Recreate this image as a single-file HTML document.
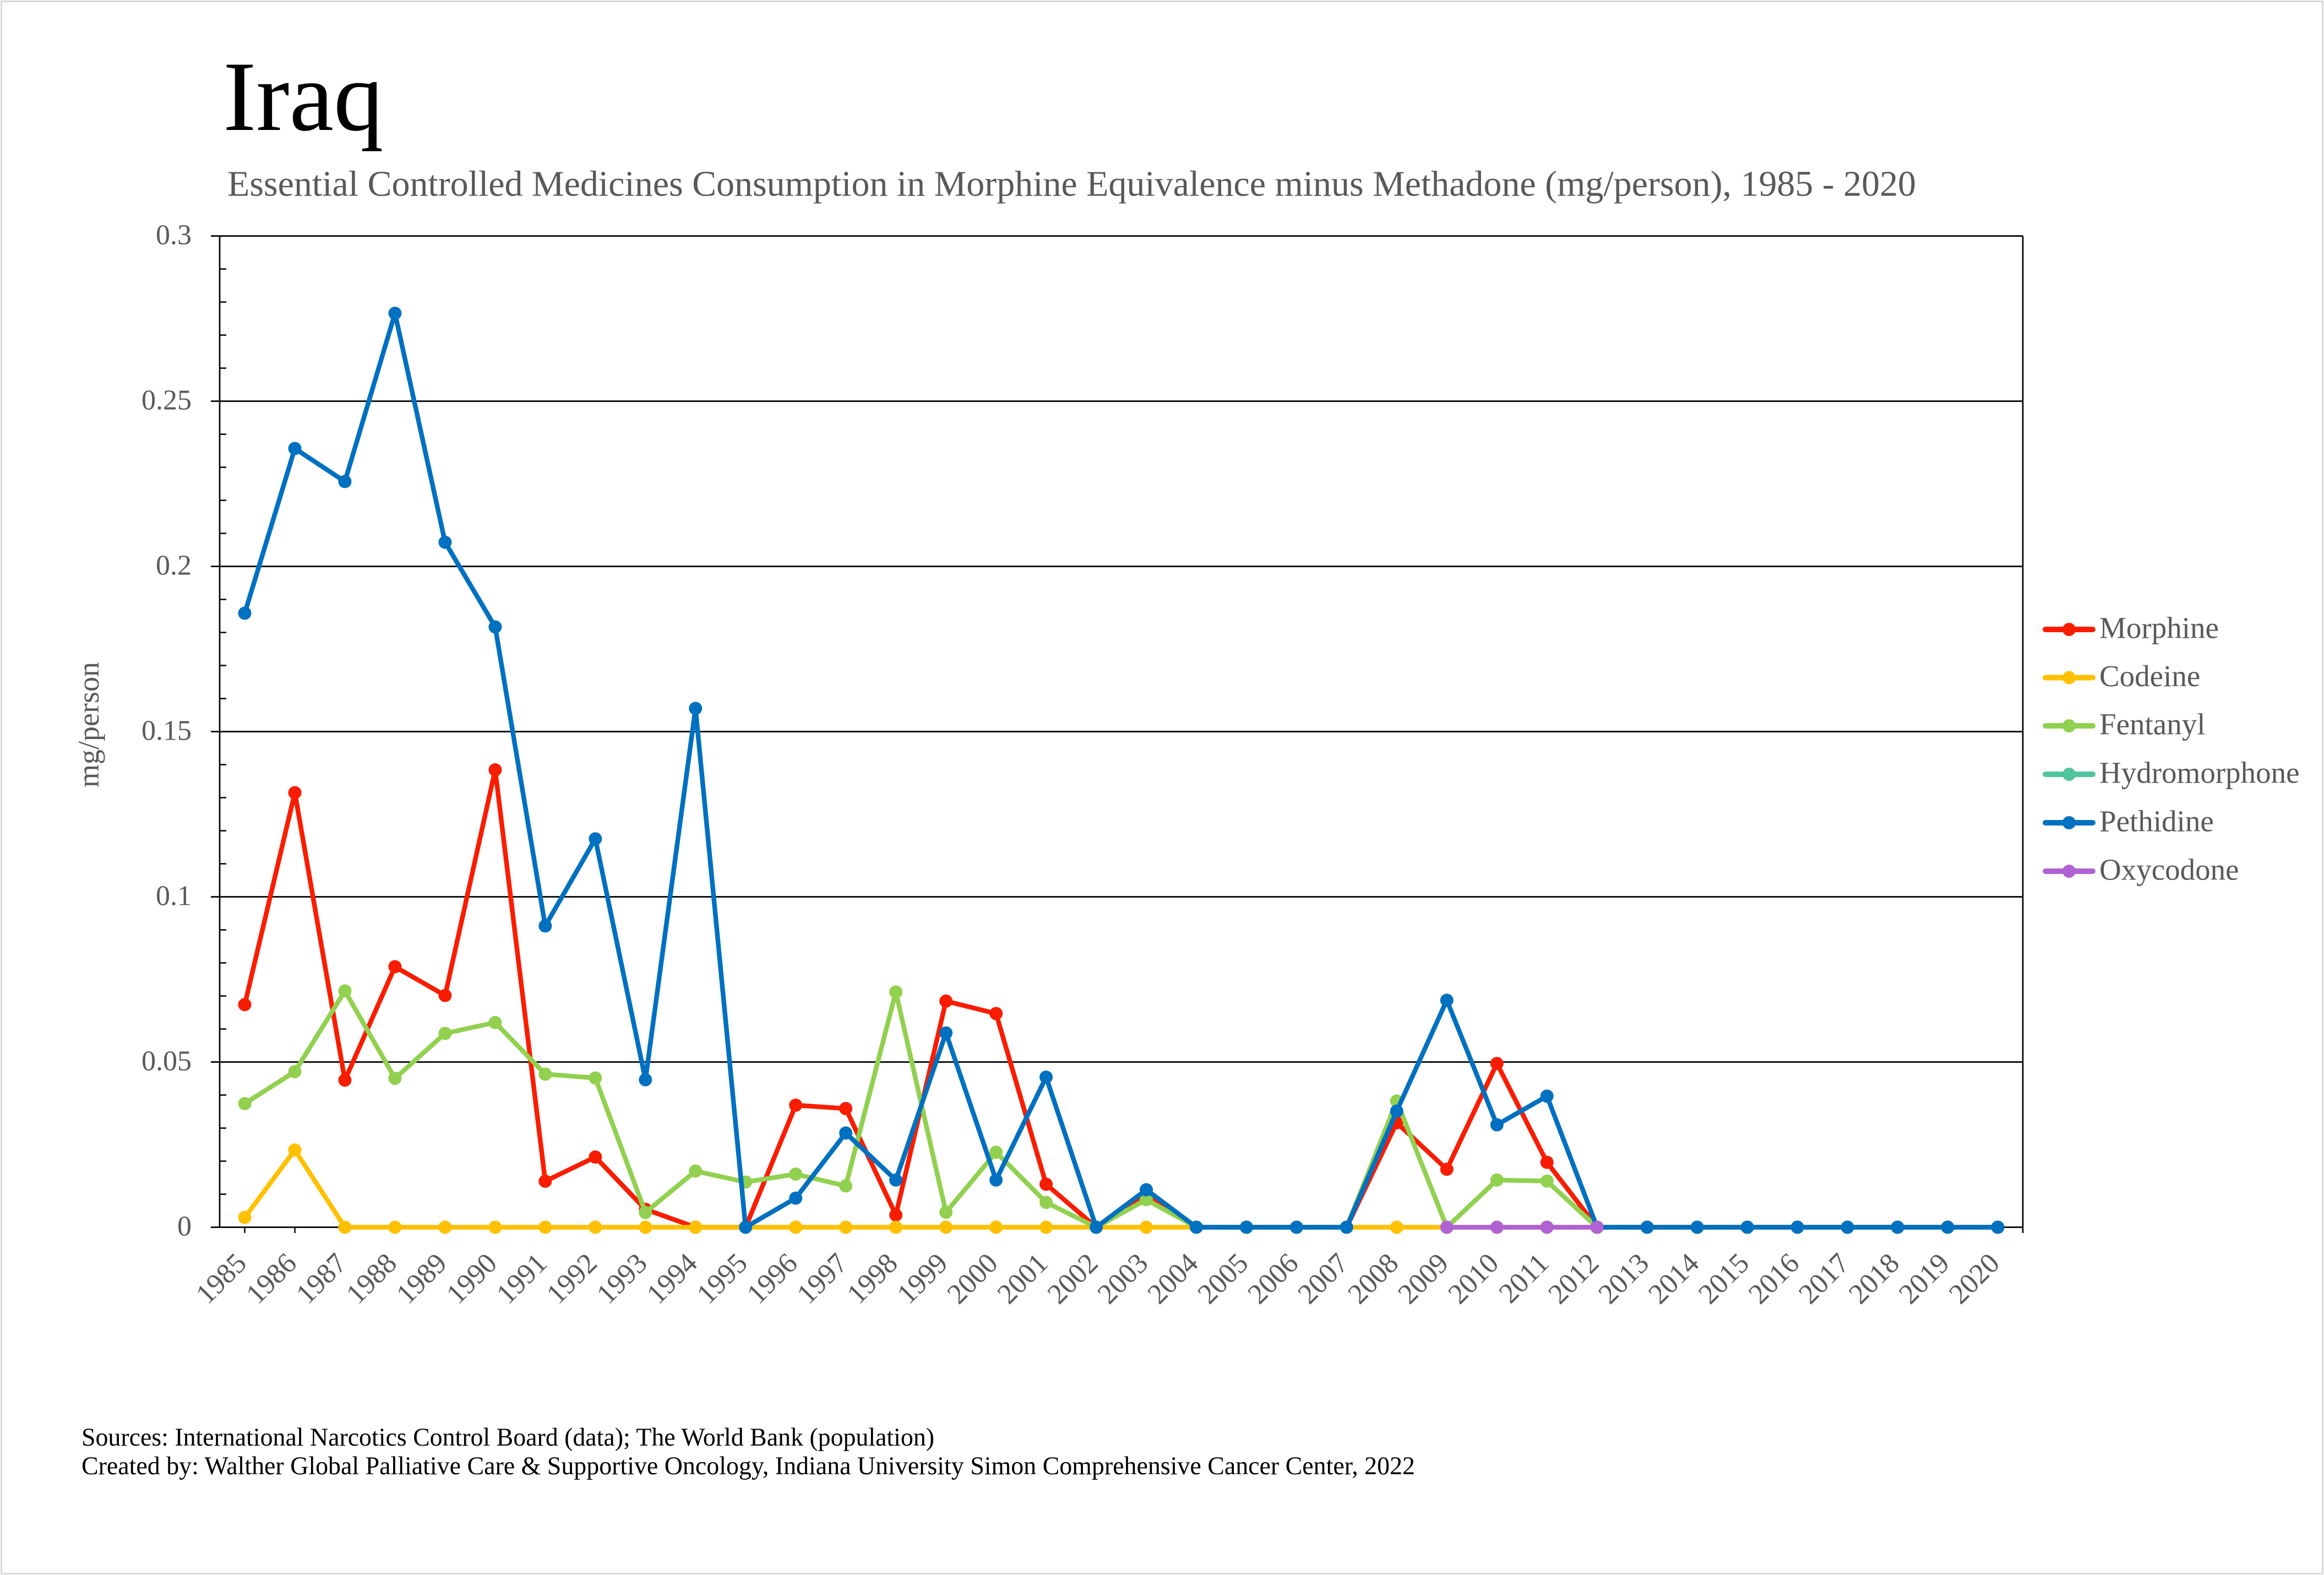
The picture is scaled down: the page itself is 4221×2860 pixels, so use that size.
<!DOCTYPE html>
<html>
<head>
<meta charset="utf-8">
<style>
html,body{margin:0;padding:0;background:#fff;}
svg{display:block;}
text{font-family:"Liberation Serif","Times New Roman",serif;}
</style>
</head>
<body>
<svg width="4221" height="2860" viewBox="0 0 4221 2860" xmlns="http://www.w3.org/2000/svg">
<defs>
<marker id="mR" markerUnits="userSpaceOnUse" markerWidth="26" markerHeight="26" refX="13" refY="13" viewBox="0 0 26 26"><circle cx="13" cy="13" r="12" fill="#F91D00"/></marker>
<marker id="mY" markerUnits="userSpaceOnUse" markerWidth="26" markerHeight="26" refX="13" refY="13" viewBox="0 0 26 26"><circle cx="13" cy="13" r="12" fill="#FFC000"/></marker>
<marker id="mG" markerUnits="userSpaceOnUse" markerWidth="26" markerHeight="26" refX="13" refY="13" viewBox="0 0 26 26"><circle cx="13" cy="13" r="12" fill="#92D050"/></marker>
<marker id="mB" markerUnits="userSpaceOnUse" markerWidth="26" markerHeight="26" refX="13" refY="13" viewBox="0 0 26 26"><circle cx="13" cy="13" r="12" fill="#0070C0"/></marker>
<marker id="mP" markerUnits="userSpaceOnUse" markerWidth="26" markerHeight="26" refX="13" refY="13" viewBox="0 0 26 26"><circle cx="13" cy="13" r="12" fill="#B062D3"/></marker>
</defs>

<rect x="0" y="0" width="4221" height="2860" fill="#fff"/>
<rect x="2.5" y="2.5" width="4216" height="2855" fill="none" stroke="#d9d9d9" stroke-width="3"/>

<!-- Title -->
<text x="405" y="236" font-size="181" fill="#000">Iraq</text>
<text x="413" y="355.5" font-size="66" fill="#595959" textLength="3067" lengthAdjust="spacingAndGlyphs">Essential Controlled Medicines Consumption in Morphine Equivalence minus Methadone (mg/person), 1985 - 2020</text>

<!-- Gridlines -->
<g stroke="#000" stroke-width="2.7">
<line x1="383" y1="428.5" x2="3674" y2="428.5"/>
<line x1="383" y1="728.5" x2="3674" y2="728.5"/>
<line x1="383" y1="1028.5" x2="3674" y2="1028.5"/>
<line x1="383" y1="1328.5" x2="3674" y2="1328.5"/>
<line x1="383" y1="1628.5" x2="3674" y2="1628.5"/>
<line x1="383" y1="1928.5" x2="3674" y2="1928.5"/>
<line x1="383" y1="2228.5" x2="3674" y2="2228.5"/>
<line x1="399" y1="428.5" x2="399" y2="2228.5"/>
<line x1="3674" y1="428.5" x2="3674" y2="2239"/>
</g>
<!-- minor ticks -->
<g stroke="#000" stroke-width="2.5">
<line x1="399" y1="488.5" x2="411" y2="488.5"/>
<line x1="399" y1="548.5" x2="411" y2="548.5"/>
<line x1="399" y1="608.5" x2="411" y2="608.5"/>
<line x1="399" y1="668.5" x2="411" y2="668.5"/>
<line x1="399" y1="788.5" x2="411" y2="788.5"/>
<line x1="399" y1="848.5" x2="411" y2="848.5"/>
<line x1="399" y1="908.5" x2="411" y2="908.5"/>
<line x1="399" y1="968.5" x2="411" y2="968.5"/>
<line x1="399" y1="1088.5" x2="411" y2="1088.5"/>
<line x1="399" y1="1148.5" x2="411" y2="1148.5"/>
<line x1="399" y1="1208.5" x2="411" y2="1208.5"/>
<line x1="399" y1="1268.5" x2="411" y2="1268.5"/>
<line x1="399" y1="1388.5" x2="411" y2="1388.5"/>
<line x1="399" y1="1448.5" x2="411" y2="1448.5"/>
<line x1="399" y1="1508.5" x2="411" y2="1508.5"/>
<line x1="399" y1="1568.5" x2="411" y2="1568.5"/>
<line x1="399" y1="1688.5" x2="411" y2="1688.5"/>
<line x1="399" y1="1748.5" x2="411" y2="1748.5"/>
<line x1="399" y1="1808.5" x2="411" y2="1808.5"/>
<line x1="399" y1="1868.5" x2="411" y2="1868.5"/>
<line x1="399" y1="1988.5" x2="411" y2="1988.5"/>
<line x1="399" y1="2048.5" x2="411" y2="2048.5"/>
<line x1="399" y1="2108.5" x2="411" y2="2108.5"/>
<line x1="399" y1="2168.5" x2="411" y2="2168.5"/>
</g>
<!-- x ticks -->
<g stroke="#000" stroke-width="2.5">
<line x1="444.5" y1="2228.5" x2="444.5" y2="2239"/>
<line x1="535.5" y1="2228.5" x2="535.5" y2="2239"/>
<line x1="626.4" y1="2228.5" x2="626.4" y2="2239"/>
<line x1="717.4" y1="2228.5" x2="717.4" y2="2239"/>
<line x1="808.4" y1="2228.5" x2="808.4" y2="2239"/>
<line x1="899.4" y1="2228.5" x2="899.4" y2="2239"/>
<line x1="990.3" y1="2228.5" x2="990.3" y2="2239"/>
<line x1="1081.3" y1="2228.5" x2="1081.3" y2="2239"/>
<line x1="1172.3" y1="2228.5" x2="1172.3" y2="2239"/>
<line x1="1263.2" y1="2228.5" x2="1263.2" y2="2239"/>
</g>

<!-- Y tick labels -->
<g font-size="52" fill="#595959" text-anchor="end">
<text x="348" y="443.5">0.3</text>
<text x="348" y="743.5">0.25</text>
<text x="348" y="1043.5">0.2</text>
<text x="348" y="1343.5">0.15</text>
<text x="348" y="1643.5">0.1</text>
<text x="348" y="1943.5">0.05</text>
<text x="348" y="2243.5">0</text>
</g>

<!-- Y axis title -->
<text transform="translate(179,1316) rotate(-90)" font-size="54" fill="#595959" text-anchor="middle">mg/person</text>

<!-- X labels -->
<g font-size="52" fill="#595959" text-anchor="end">
<text transform="translate(450.5,2297) rotate(-45)">1985</text>
<text transform="translate(541.5,2297) rotate(-45)">1986</text>
<text transform="translate(632.4,2297) rotate(-45)">1987</text>
<text transform="translate(723.4,2297) rotate(-45)">1988</text>
<text transform="translate(814.4,2297) rotate(-45)">1989</text>
<text transform="translate(905.4,2297) rotate(-45)">1990</text>
<text transform="translate(996.3,2297) rotate(-45)">1991</text>
<text transform="translate(1087.3,2297) rotate(-45)">1992</text>
<text transform="translate(1178.3,2297) rotate(-45)">1993</text>
<text transform="translate(1269.2,2297) rotate(-45)">1994</text>
<text transform="translate(1360.2,2297) rotate(-45)">1995</text>
<text transform="translate(1451.2,2297) rotate(-45)">1996</text>
<text transform="translate(1542.1,2297) rotate(-45)">1997</text>
<text transform="translate(1633.1,2297) rotate(-45)">1998</text>
<text transform="translate(1724.1,2297) rotate(-45)">1999</text>
<text transform="translate(1815.1,2297) rotate(-45)">2000</text>
<text transform="translate(1906,2297) rotate(-45)">2001</text>
<text transform="translate(1997,2297) rotate(-45)">2002</text>
<text transform="translate(2088,2297) rotate(-45)">2003</text>
<text transform="translate(2178.9,2297) rotate(-45)">2004</text>
<text transform="translate(2269.9,2297) rotate(-45)">2005</text>
<text transform="translate(2360.9,2297) rotate(-45)">2006</text>
<text transform="translate(2451.8,2297) rotate(-45)">2007</text>
<text transform="translate(2542.8,2297) rotate(-45)">2008</text>
<text transform="translate(2633.8,2297) rotate(-45)">2009</text>
<text transform="translate(2724.8,2297) rotate(-45)">2010</text>
<text transform="translate(2815.7,2297) rotate(-45)">2011</text>
<text transform="translate(2906.7,2297) rotate(-45)">2012</text>
<text transform="translate(2997.7,2297) rotate(-45)">2013</text>
<text transform="translate(3088.6,2297) rotate(-45)">2014</text>
<text transform="translate(3179.6,2297) rotate(-45)">2015</text>
<text transform="translate(3270.6,2297) rotate(-45)">2016</text>
<text transform="translate(3361.5,2297) rotate(-45)">2017</text>
<text transform="translate(3452.5,2297) rotate(-45)">2018</text>
<text transform="translate(3543.5,2297) rotate(-45)">2019</text>
<text transform="translate(3634.5,2297) rotate(-45)">2020</text>
</g>

<!-- Series -->
<g fill="none" stroke-width="8.5" stroke-linejoin="round" stroke-linecap="round">
<!-- Morphine -->
<polyline stroke="#F91D00" marker-start="url(#mR)" marker-mid="url(#mR)" marker-end="url(#mR)" points="444.5,1824.2 535.5,1439.4 626.4,1961.4 717.4,1755.4 808.4,1807.7 899.4,1398 990.3,2145 1081.3,2101 1172.3,2196 1263.2,2228.5 1354.2,2228.5 1445.2,2006.9 1536.1,2013 1627.1,2206.3 1718.1,1817.9 1809.1,1840.5 1900,2150.4 1991,2228.5 2082,2167.3 2172.9,2228.5 2263.9,2228.5 2354.9,2228.5 2445.8,2228.5 2536.8,2038.7 2627.8,2123.3 2718.8,1931.2 2809.7,2110.6 2900.7,2228.5 2991.7,2228.5 3082.6,2228.5 3173.6,2228.5 3264.6,2228.5 3355.5,2228.5 3446.5,2228.5 3537.5,2228.5 3628.5,2228.5"/>
<!-- Codeine -->
<polyline stroke="#FFC000" marker-start="url(#mY)" marker-mid="url(#mY)" marker-end="url(#mY)" points="444.5,2210.7 535.5,2088.3 626.4,2228.5 717.4,2228.5 808.4,2228.5 899.4,2228.5 990.3,2228.5 1081.3,2228.5 1172.3,2228.5 1263.2,2228.5 1354.2,2228.5 1445.2,2228.5 1536.1,2228.5 1627.1,2228.5 1718.1,2228.5 1809.1,2228.5 1900,2228.5 1991,2228.5 2082,2228.5 2172.9,2228.5 2263.9,2228.5 2354.9,2228.5 2445.8,2228.5 2536.8,2228.5 2627.8,2228.5 2718.8,2228.5 2809.7,2228.5 2900.7,2228.5 2991.7,2228.5 3082.6,2228.5 3173.6,2228.5 3264.6,2228.5 3355.5,2228.5 3446.5,2228.5 3537.5,2228.5 3628.5,2228.5"/>
<!-- Fentanyl -->
<polyline stroke="#92D050" marker-start="url(#mG)" marker-mid="url(#mG)" marker-end="url(#mG)" points="444.5,2004 535.5,1946 626.4,1799.4 717.4,1958.2 808.4,1876.5 899.4,1856.8 990.3,1950.5 1081.3,1957.5 1172.3,2201.8 1263.2,2126.5 1354.2,2146.5 1445.2,2132 1536.1,2153.5 1627.1,1801.4 1718.1,2201.3 1809.1,2092.3 1900,2183.4 1991,2228.5 2082,2178.4 2172.9,2228.5 2263.9,2228.5 2354.9,2228.5 2445.8,2228.5 2536.8,1999.3 2627.8,2228.5 2718.8,2142.8 2809.7,2144.7 2900.7,2228.5 2991.7,2228.5 3082.6,2228.5 3173.6,2228.5 3264.6,2228.5 3355.5,2228.5 3446.5,2228.5 3537.5,2228.5 3628.5,2228.5"/>
<!-- Pethidine -->
<polyline stroke="#0070C0" marker-start="url(#mB)" marker-mid="url(#mB)" marker-end="url(#mB)" points="444.5,1113.5 535.5,814.4 626.4,874.4 717.4,568.9 808.4,984.7 899.4,1138.4 990.3,1681.4 1081.3,1523.2 1172.3,1960.7 1263.2,1286.4 1354.2,2228.5 1445.2,2175.7 1536.1,2057.4 1627.1,2142.8 1718.1,1875.7 1809.1,2142.8 1900,1956 1991,2228.5 2082,2160.4 2172.9,2228.5 2263.9,2228.5 2354.9,2228.5 2445.8,2228.5 2536.8,2017.6 2627.8,1816.3 2718.8,2042.5 2809.7,1990.5 2900.7,2228.5 2991.7,2228.5 3082.6,2228.5 3173.6,2228.5 3264.6,2228.5 3355.5,2228.5 3446.5,2228.5 3537.5,2228.5 3628.5,2228.5"/>
<!-- Oxycodone -->
<polyline stroke="#B062D3" marker-start="url(#mP)" marker-mid="url(#mP)" marker-end="url(#mP)" points="2627.8,2228.5 2718.8,2228.5 2809.7,2228.5 2900.7,2228.5"/>
</g>

<!-- Legend -->
<g stroke-width="10" stroke-linecap="round">
<line x1="3715" y1="1143" x2="3801" y2="1143" stroke="#F91D00"/>
<line x1="3715" y1="1230.5" x2="3801" y2="1230.5" stroke="#FFC000"/>
<line x1="3715" y1="1318" x2="3801" y2="1318" stroke="#92D050"/>
<line x1="3715" y1="1406" x2="3801" y2="1406" stroke="#50C49F"/>
<line x1="3715" y1="1494" x2="3801" y2="1494" stroke="#0070C0"/>
<line x1="3715" y1="1582" x2="3801" y2="1582" stroke="#B062D3"/>
</g>
<circle cx="3758" cy="1143" r="12" fill="#F91D00"/>
<circle cx="3758" cy="1230.5" r="12" fill="#FFC000"/>
<circle cx="3758" cy="1318" r="12" fill="#92D050"/>
<circle cx="3758" cy="1406" r="12" fill="#50C49F"/>
<circle cx="3758" cy="1494" r="12" fill="#0070C0"/>
<circle cx="3758" cy="1582" r="12" fill="#B062D3"/>
<g font-size="55" fill="#595959">
<text x="3813" y="1158.5">Morphine</text>
<text x="3813" y="1246">Codeine</text>
<text x="3813" y="1333.5">Fentanyl</text>
<text x="3813" y="1421.5">Hydromorphone</text>
<text x="3813" y="1509.5">Pethidine</text>
<text x="3813" y="1597.5">Oxycodone</text>
</g>

<!-- Footer -->
<g font-size="47" fill="#000">
<text x="148" y="2625" textLength="1549" lengthAdjust="spacingAndGlyphs">Sources: International Narcotics Control Board (data); The World Bank (population)</text>
<text x="148" y="2677" textLength="2422" lengthAdjust="spacingAndGlyphs">Created by: Walther Global Palliative Care &amp; Supportive Oncology, Indiana University Simon Comprehensive Cancer Center, 2022</text>
</g>
</svg>
</body>
</html>
